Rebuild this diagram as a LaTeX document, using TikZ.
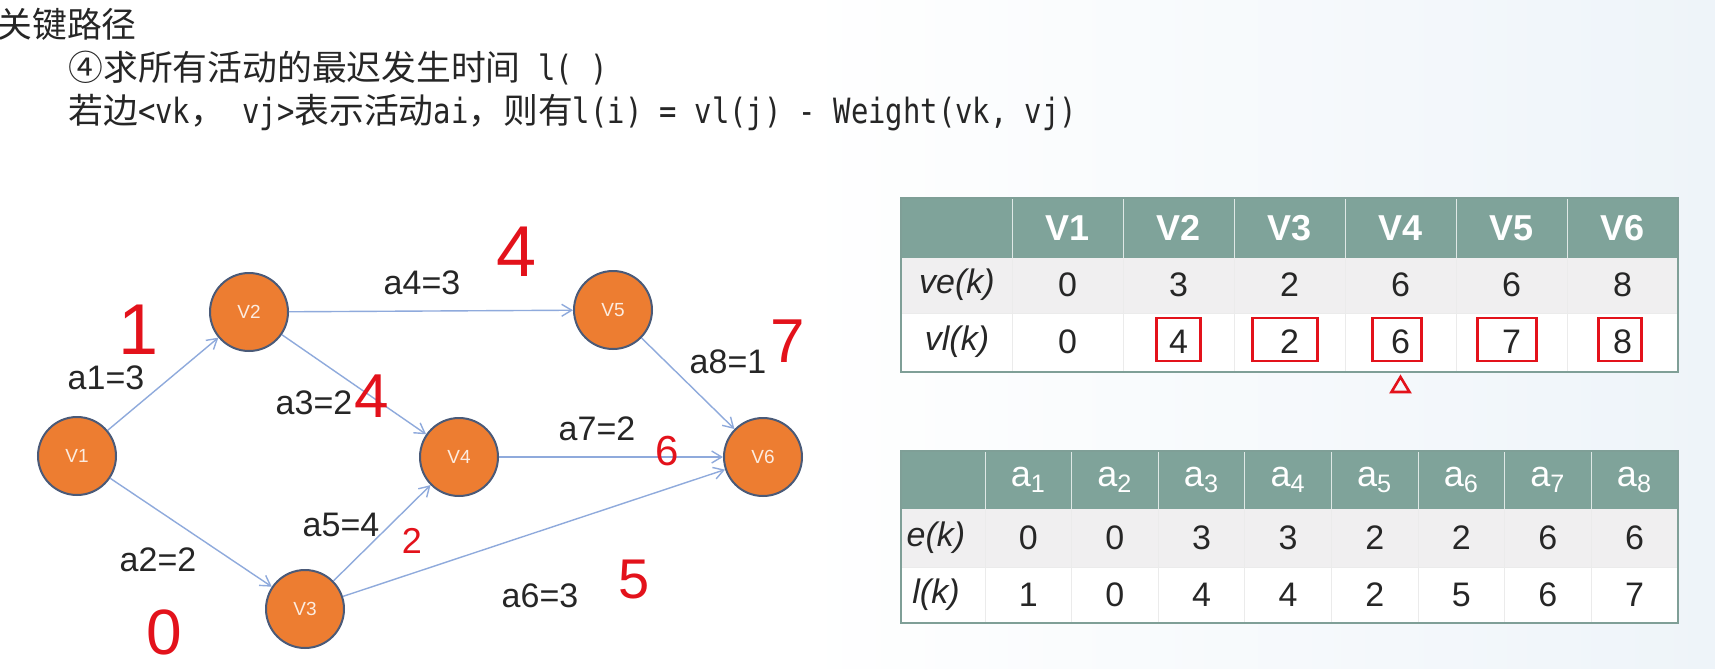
\documentclass[tikz,border=0pt]{standalone}
\usepackage{fontspec}
\setmainfont{Liberation Sans}
\newfontfamily\cjkfont{Noto Sans CJK SC}
\newfontfamily\monofont[FakeStretch=0.83]{DejaVu Sans Mono}
\usetikzlibrary{arrows.meta,calc}
\definecolor{ink}{HTML}{262626}
\definecolor{vorange}{HTML}{ED7D31}
\definecolor{vrim}{HTML}{4A5A78}
\definecolor{link}{HTML}{8FAADC}
\definecolor{sage}{HTML}{7FA39A}
\definecolor{band}{HTML}{F0EFF0}
\definecolor{pen}{HTML}{E3121B}
\definecolor{haze}{HTML}{EEF4F9}
\newcommand{\zh}[1]{{\cjkfont #1}}
\newcommand{\asc}[1]{{\monofont #1}}

\begin{document}
\begin{tikzpicture}[x=0.5pt,y=-0.5pt,
    vtx/.style={circle,draw=vrim,line width=1pt,fill=vorange,minimum size=39pt,inner sep=0pt,text=white!85!vorange,font=\fontsize{9.5}{10}\selectfont},
    act/.style={draw=link,line width=0.7pt,-{Straight Barb[length=5pt,width=6pt]}},
    wt/.style={text=ink,inner sep=1pt,font=\fontsize{17}{19}\selectfont},
    scrawl/.style={text=pen,inner sep=0pt,font=\fontsize{#1}{#1}\selectfont},
    txtline/.style={anchor=west,inner sep=0pt,text=ink,font=\fontsize{17.4}{20}\selectfont},
    hd/.style={text=white,font=\fontsize{18}{20}\selectfont},
    vhd/.style={text=white,font=\fontsize{18}{20}\selectfont\bfseries},
    num/.style={text=ink,font=\fontsize{17}{20}\selectfont},
    rowhd/.style={text=ink,font=\fontsize{17}{20}\selectfont\itshape},
    redbox/.style={draw=pen,line width=1.3pt}]
  \fill[white] (0,0) rectangle (1715,669);
  \shade[left color=white,right color=haze] (800,0) rectangle (1715,669);
  \useasboundingbox (0,0) rectangle (1715,669);

  \node[txtline] (title) at (-3,24) {\zh{关键路径}};
  \node[txtline] (goal) at (68,68) {\zh{④求所有活动的最迟发生时间}\asc{ l( )}};
  \node[txtline] (rule) at (68,113) {\zh{若边}\asc{<vk}\zh{，}\asc{ vj>}\zh{表示活动}\asc{ai}\zh{，则有}\asc{l(i) = vl(j) - Weight(vk, vj)}};

  \node[vtx] (v1) at (77,456) {V1};
  \node[vtx] (v2) at (249,312) {V2};
  \node[vtx] (v3) at (305,609) {V3};
  \node[vtx] (v4) at (459,457) {V4};
  \node[vtx] (v5) at (613,310) {V5};
  \node[vtx] (v6) at (763,457) {V6};
  \draw[act] (v1)--(v2); \draw[act] (v1)--(v3); \draw[act] (v2)--(v4); \draw[act] (v2)--(v5);
  \draw[act] (v3)--(v4); \draw[act] (v3)--(v6); \draw[act] (v4)--(v6); \draw[act] (v5)--(v6);

  \node[wt] (w1) at (106,378) {a1=3};
  \node[wt] (w2) at (158,560) {a2=2};
  \node[wt] (w3) at (314,403) {a3=2};
  \node[wt] (w4) at (422,283) {a4=3};
  \node[wt] (w5) at (341,525) {a5=4};
  \node[wt] (w6) at (540,596) {a6=3};
  \node[wt] (w7) at (597,429) {a7=2};
  \node[wt] (w8) at (728,362) {a8=1};

  \node[scrawl=36] (h1) at (139,330) {1};
  \node[scrawl=36] (h4) at (517,252) {4};
  \node[scrawl=31] (h3) at (372,396) {4};
  \node[scrawl=31] (h8) at (788,341) {7};
  \node[scrawl=21] (h7) at (667,451) {6};
  \node[scrawl=18] (h5) at (412,541) {2};
  \node[scrawl=28] (h6) at (634,580) {5};
  \node[scrawl=32] (h2) at (164,632) {0};

  \fill[sage] (901,198) rectangle (1678,258);
  \fill[band] (901,258) rectangle (1678,313);
  \fill[white] (901,313) rectangle (1678,372);
  \foreach \i in {0,...,5} \draw[white!75!sage] ({1012+111*\i},198) -- ({1012+111*\i},258);
  \foreach \i in {0,...,5} \draw[black!8] ({1012+111*\i},258) -- ({1012+111*\i},372);
  \draw[black!8] (901,313) -- (1678,313);
  \draw[sage!90!gray,line width=1.2pt] (901,198) rectangle (1678,372);
  \node[rowhd] (ve) at (957,285) {ve(k)};
  \node[rowhd] (vl) at (957,342) {vl(k)};
  \foreach \i in {1,...,6} \node[vhd] (V\i) at ({1012+111*\i-55.5},228) {V\i};
  \foreach \v [count=\i] in {0,3,2,6,6,8} \node[num] (ve\i) at ({1012+111*\i-55.5},285) {\v};
  \foreach \v [count=\i] in {0,4,2,6,7,8} \node[num] (vl\i) at ({1012+111*\i-55.5},342) {\v};
  \foreach \i/\l/\r in {2/-22/22,3/-37/28,4/-28/21,5/-34/25,6/-24/19} \draw[redbox] ($(vl\i)+(\l,-24)$) rectangle ($(vl\i)+(\r,19)$);
  \draw[redbox] ($(vl4)+(0,35)$) -- ($(vl4)+(-9,50)$) -- ($(vl4)+(9,50)$) -- cycle;

  \fill[sage] (901,451) rectangle (1678,509);
  \fill[band] (901,509) rectangle (1678,567);
  \fill[white] (901,567) rectangle (1678,623);
  \foreach \i in {0,...,7} \draw[white!75!sage] ({985+86.6*\i},451) -- ({985+86.6*\i},509);
  \foreach \i in {0,...,7} \draw[black!8] ({985+86.6*\i},509) -- ({985+86.6*\i},623);
  \draw[black!8] (901,567) -- (1678,567);
  \draw[sage!90!gray,line width=1.2pt] (901,451) rectangle (1678,623);
  \node[rowhd] (e) at (936,538) {e(k)};
  \node[rowhd] (l) at (936,595) {l(k)};
  \foreach \i in {1,...,8} \node[hd] (a\i) at ({985+86.6*\i-43.3},480) {a\textsubscript{\i}};
  \foreach \v [count=\i] in {0,0,3,3,2,2,6,6} \node[num] (e\i) at ({985+86.6*\i-43.3},538) {\v};
  \foreach \v [count=\i] in {1,0,4,4,2,5,6,7} \node[num] (l\i) at ({985+86.6*\i-43.3},595) {\v};
\end{tikzpicture}
\end{document}
